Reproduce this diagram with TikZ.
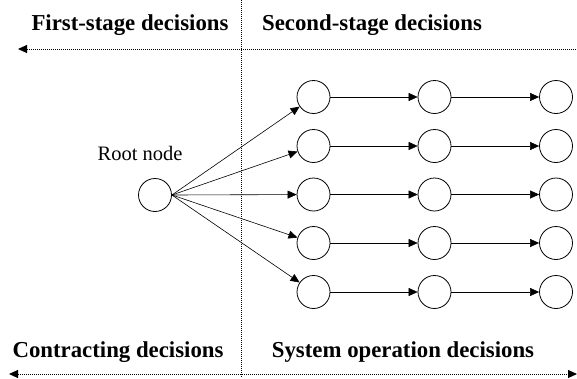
\documentclass[tikz,border=0pt]{standalone}
\usepackage{fontspec}
\setmainfont{Liberation Serif}
\usetikzlibrary{arrows.meta}
\begin{document}
\begin{tikzpicture}[x=1pt,y=-1pt,
  state/.style={draw,circle,minimum size=33pt,inner sep=0pt,line width=0.8pt},
  link/.style={line width=0.6pt,-{Triangle[length=9pt,width=8pt]}},
  chain/.style={line width=0.5pt,-{Triangle[length=9pt,width=8pt]}},
  stagerule/.style={line width=1pt,dash pattern=on 1pt off 1pt},
  heading/.style={font=\fontsize{22.8}{27}\selectfont\bfseries,inner sep=0pt,anchor=base},
  label/.style={font=\fontsize{20.5}{24}\selectfont,inner sep=0pt,anchor=base}]
\useasboundingbox (0,0) rectangle (577,378);

% stage divider
\coordinate (divtop) at (241,0);
\coordinate (divbot) at (241,378);
\draw[stagerule] (divtop) -- (divbot);

% headings
\node[heading] (first) at (130,30.7) {First-stage decisions};
\node[heading] (second) at (372,30.7) {Second-stage decisions};
\node[heading] (contract) at (118,357.5) {Contracting decisions};
\node[heading] (operate) at (403,357.5) {System operation decisions};

% horizon arrows
\coordinate (topL) at (18,49);
\coordinate (topR) at (585,49);
\draw[stagerule,{Triangle[length=9pt,width=8pt]}-] (topL) -- (topR);
\coordinate (botL) at (9,374);
\coordinate (botR) at (577,374);
\draw[stagerule,{Triangle[length=9pt,width=8pt]}-{Triangle[length=9pt,width=8pt]}] (botL) -- (botR);

% scenario tree
\node[label] (rootlbl) at (140,160) {Root node};
\node[state] (root) at (155,195) {};
\foreach \r/\y in {1/97,2/146,3/194.5,4/243,5/292}{
  \node[state] (n\r-1) at (313.5,\y) {};
  \node[state] (n\r-2) at (434.5,\y) {};
  \node[state] (n\r-3) at (556,\y) {};
  \draw[link] (root.east) -- (n\r-1);
  \draw[chain] (n\r-1) -- (n\r-2);
  \draw[chain] (n\r-2) -- (n\r-3);
}
\end{tikzpicture}
\end{document}
